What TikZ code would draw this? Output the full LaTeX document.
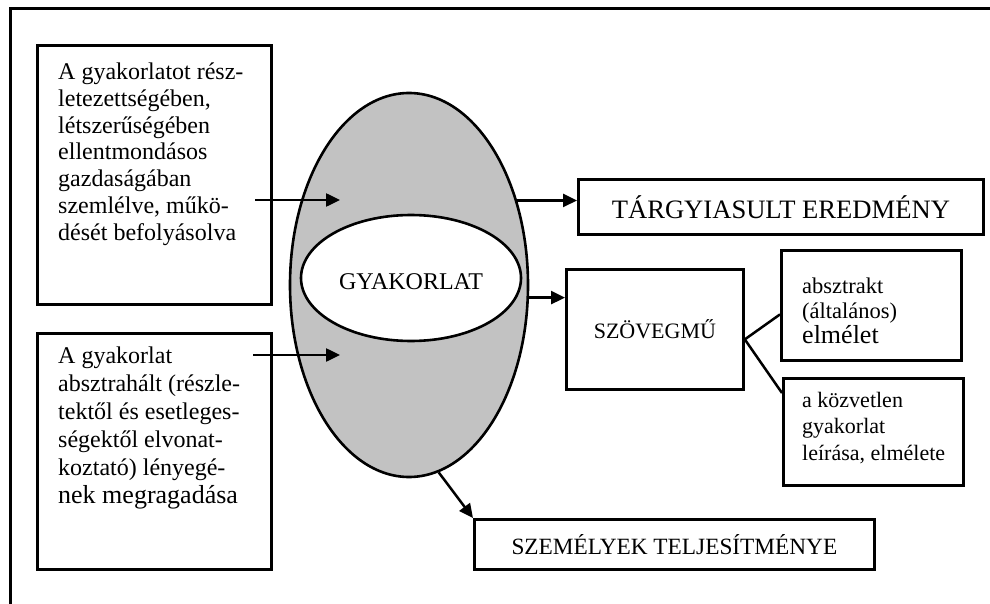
\documentclass[tikz,border=0pt]{standalone}
\usepackage{fontspec}
\setmainfont{Liberation Serif}
\usetikzlibrary{arrows.meta,calc,shapes.geometric}
\definecolor{elfill}{RGB}{194,194,194}
\newcommand\setfs[2]{\fontsize{#1}{#2}\selectfont}
\begin{document}
\begin{tikzpicture}[x=1pt,y=-1pt,
  box/.style={draw, line width=2.8pt, rectangle, inner sep=0pt, anchor=north west},
  txt/.style={align=left, inner sep=0pt, anchor=north west},
  arr/.style={line width=2.5pt, -{Triangle[length=14pt,width=13pt]}},
  ln/.style={line width=2.5pt}]
\useasboundingbox (0,0) rectangle (990,604);
\clip (0,0) rectangle (990,604);
% outer frame (cut off at right and bottom)
\draw[line width=3pt] (10,9) rectangle (1300,900);

% left boxes
\node[box, minimum width=234pt, minimum height=259pt] (b1) at (36,44) {};
\node[txt, font=\setfs{24}{26.8}] (t1) at (58,62.6)
 {A gyakorlatot rész-\\letezettségében,\\létszerűségében\\ellentmondásos\\gazdaságában\\szemlélve, műkö-\\dését befolyásolva};
\node[box, minimum width=234pt, minimum height=236pt] (b2) at (36,332) {};
\node[txt, font=\setfs{24}{28}] (t2) at (58,346.6)
 {A gyakorlat\\absztrahált (részle-\\tektől és esetleges-\\ségektől elvonat-\\koztató) lényegé-\\{\setfs{26}{28}nek megragadása}};

% ellipses
\node[draw, ellipse, line width=2.6pt, fill=elfill, minimum width=238pt, minimum height=384pt, inner sep=0pt] (big) at (409,285) {};
\node[draw, ellipse, line width=2.6pt, fill=white, minimum width=220pt, minimum height=126pt, inner sep=0pt, text height=23pt, font=\setfs{24}{26}] (gy) at (411,278) {GYAKORLAT};

% right boxes
\node[box, minimum width=405pt, minimum height=55pt, font=\setfs{26.6}{28}] (tar) at (577,178) {TÁRGYIASULT EREDMÉNY};
\node[box, minimum width=177pt, minimum height=120pt, font=\setfs{22}{24}] (szov) at (565,268) {SZÖVEGMŰ};
\node[box, minimum width=180pt, minimum height=110pt] (abs) at (780,249) {};
\node[txt, font=\setfs{22.5}{25}] (abst) at (802,277.6) {absztrakt\\(általános)\\{\setfs{26}{25}elmélet}};
\node[box, minimum width=180pt, minimum height=107pt] (koz) at (782,377) {};
\node[txt, font=\setfs{22}{26.5}] (kozt) at (802,391.8) {a közvetlen\\gyakorlat\\leírása, elmélete};
\node[box, minimum width=400pt, minimum height=50pt, font=\setfs{23.3}{26}] (szem) at (473,518) {SZEMÉLYEK TELJESÍTMÉNYE};

% connectors
\coordinate (a1s) at (255,200);
\coordinate (a1e) at (340,200);
\coordinate (a2s) at (253,355);
\coordinate (a2e) at (340,355);
\draw[arr] (a1s) -- (a1e);
\draw[arr] (a2s) -- (a2e);
\draw[arr] (big.38) -- (big.38 -| tar.west);
\draw[arr] (big.-6) -- (big.-6 -| szov.west);
\draw[arr] (big.-81) -- (szem.north west);
\coordinate (sj) at ($(szov.east)+(0,10)$);
\coordinate (absj) at ($(abs.west)+(0,9)$);
\coordinate (kozj) at ($(koz.north west)+(0,16)$);
\draw[ln] (sj) -- (absj);
\draw[ln] (sj) -- (kozj);
\end{tikzpicture}
\end{document}
